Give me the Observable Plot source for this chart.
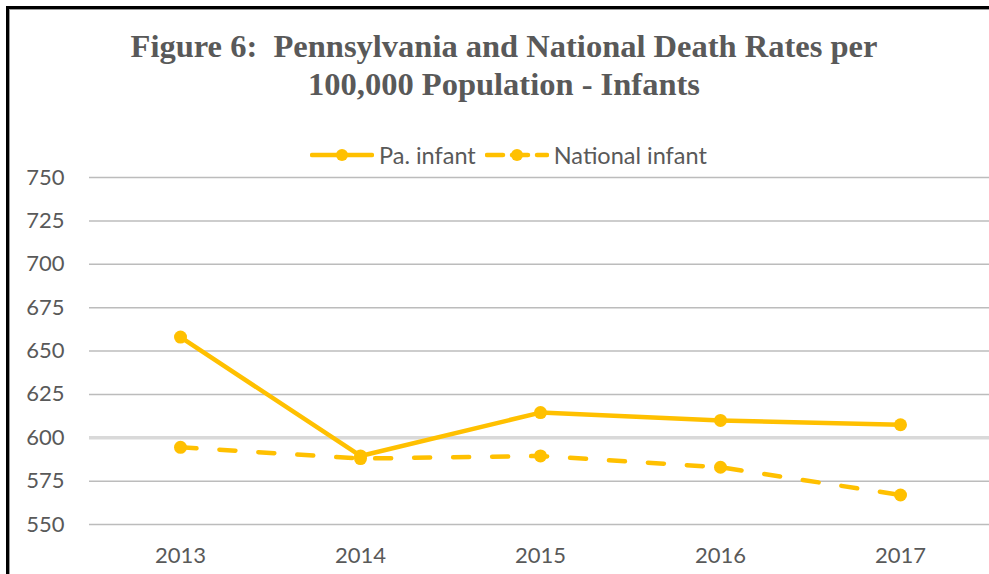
<!DOCTYPE html>
<html>
<head>
<meta charset="utf-8">
<script src="https://cdn.jsdelivr.net/npm/d3@7"></script>
<script src="https://cdn.jsdelivr.net/npm/@observablehq/plot@0.6"></script>
<style>
  html, body { margin: 0; padding: 0; background: #fff; }
  #wrap { position: relative; width: 989px; height: 574px; overflow: hidden; background: #fff; }
  #frame { position: absolute; left: 6px; top: 6px; width: 1100px; height: 700px;
           border-left: 3px solid #000; border-top: 3px solid #000;
           box-shadow: inset 1px 1px 0 #9a9a9a; box-sizing: border-box; }
  #title { position: absolute; left: 0; width: 1008px; top: 27px; text-align: center;
           font-family: "Liberation Serif", "Times New Roman", serif; font-weight: bold;
           font-size: 32.5px; line-height: 38px; color: #595959; }
  #legend { position: absolute; top: 140px; left: 310px; height: 30px; display: flex; align-items: center;
            font-family: Lato, "Open Sans", sans-serif; font-size: 23.5px; color: #595959; }
  #legend .item { display: flex; align-items: center; margin-right: 9px; }
  #legend svg { margin-right: 5px; }
  #chart { position: absolute; left: 0; top: 165px; width: 1000px; }
</style>
</head>
<body>
<div id="wrap">
  <div id="frame"></div>
  <div id="title">Figure 6:&nbsp; Pennsylvania and National Death Rates per<br>100,000 Population - Infants</div>
  <div id="legend"></div>
  <div id="chart"></div>
</div>
<script>
const years = ["2013", "2014", "2015", "2016", "2017"];
const paInfant = [658, 589.5, 614.5, 610, 607.5];
const nationalInfant = [594.5, 588, 589.5, 583, 567];
const yTicks = [550, 575, 600, 625, 650, 675, 700, 725, 750];
const seriesNames = ["Pa. infant", "National infant"];
const seriesColor = "#FFC000";

const rows = [];
years.forEach((yr, i) => {
  rows.push({year: yr, value: paInfant[i], series: seriesNames[0]});
  rows.push({year: yr, value: nationalInfant[i], series: seriesNames[1]});
});
const pa = rows.filter(d => d.series === seriesNames[0]);
const nat = rows.filter(d => d.series === seriesNames[1]);

// legend
const legend = document.getElementById("legend");
seriesNames.forEach((name, i) => {
  const item = document.createElement("div");
  item.className = "item";
  const dash = i === 1 ? 'stroke-dasharray="16,9"' : '';
  item.innerHTML = `<svg width="64" height="16"><line x1="2" y1="8" x2="62" y2="8" stroke="${seriesColor}" stroke-width="4.5" stroke-linecap="round" ${dash}/><circle cx="32" cy="8" r="6" fill="${seriesColor}"/></svg><span>${name}</span>`;
  legend.appendChild(item);
});

const chart = Plot.plot({
  width: 1000,
  height: 409,
  marginLeft: 89,
  marginRight: 10,
  marginTop: 12,
  marginBottom: 50,
  style: {fontFamily: "Lato, 'Open Sans', sans-serif", fontSize: "22px", color: "#595959", background: "transparent", overflow: "visible", maxWidth: "none"},
  x: {type: "point", domain: years, padding: 0.5, label: null},
  y: {domain: [550, 750], label: null},
  marks: [
    Plot.ruleY(yTicks.filter(t => t !== 600), {stroke: "#bcbcbc", strokeWidth: 1.5, strokeOpacity: 1}),
    Plot.ruleY([600], {stroke: "#d9d9d9", strokeWidth: 3.5, strokeOpacity: 1}),
    Plot.line(nat, {x: "year", y: "value", stroke: seriesColor, strokeWidth: 4.5, strokeDasharray: "16,23", strokeLinecap: "round"}),
    Plot.line(pa, {x: "year", y: "value", stroke: seriesColor, strokeWidth: 4.5, strokeLinecap: "round"}),
    Plot.dot(rows, {x: "year", y: "value", r: 6.5, fill: seriesColor, stroke: "none"}),
    Plot.axisX({tickSize: 0, tickPadding: 23, label: null, fontSize: 22}),
    Plot.axisY({ticks: yTicks, tickSize: 0, tickPadding: 25, label: null, fontSize: 22, tickFormat: d => String(d)})
  ]
});
document.getElementById("chart").appendChild(chart);
</script>
</body>
</html>
